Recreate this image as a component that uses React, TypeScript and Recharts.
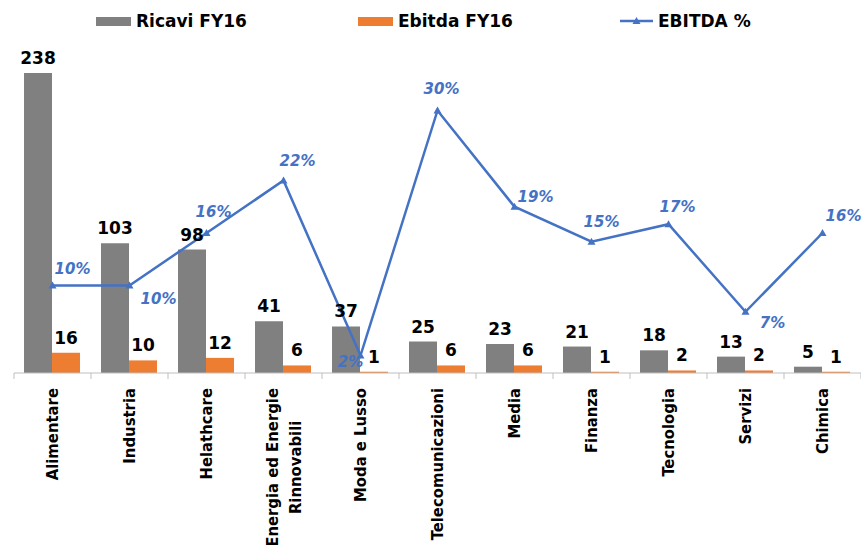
import React from "react"
import { ComposedChart, Bar, Line, XAxis, YAxis, LabelList, Legend } from "recharts"

const categories = [
  "Alimentare",
  "Industria",
  "Helathcare",
  "Energia ed Energie Rinnovabili",
  "Moda e Lusso",
  "Telecomunicazioni",
  "Media",
  "Finanza",
  "Tecnologia",
  "Servizi",
  "Chimica",
]
const ricavi = [238, 103, 98, 41, 37, 25, 23, 21, 18, 13, 5]
const ebitda = [16, 10, 12, 6, 1, 6, 6, 1, 2, 2, 1]
const ebitdaPct = [10, 10, 16, 22, 2, 30, 19, 15, 17, 7, 16]
const seriesNames = ["Ricavi FY16", "Ebitda FY16", "EBITDA %"]

const data = categories.map((name, i) => ({
  name,
  ricavi: ricavi[i],
  ebitda: ebitda[i],
  pct: ebitdaPct[i],
}))

const W = 861
const H = 545
const LEFT = 14
const PLOT_BOTTOM = 373
const BAND = (W - LEFT) / categories.length

const GREY = "#808080"
const ORANGE = "#ED7D31"
const BLUE = "#4472C4"
const AXIS = "#bfbfbf"

const AXIS_FONT = "'DejaVu Sans Condensed', 'DejaVu Sans', sans-serif"
const AXIS_SIZE = 16.5

// where each % label sits relative to its point
const pctOffsets = [
  [20, -17], [29, 13], [7, -21], [14, -20], [-10, 6], [4, -22],
  [21, -10], [10, -20], [9, -17], [27, 11], [21, -17],
]

function measure(text: string) {
  try {
    const c = document.createElement("canvas").getContext("2d")
    if (c) {
      c.font = `bold ${AXIS_SIZE}px ${AXIS_FONT}`
      return c.measureText(text).width
    }
  } catch (e) {}
  return text.length * AXIS_SIZE * 0.6
}

function splitLabel(s: string) {
  if (s.length <= 20) return [s]
  const k = s.lastIndexOf(" ")
  return [s.slice(0, k), s.slice(k + 1)]
}

function CategoryTick(props: any) {
  const { x, payload, index } = props
  const lines = splitLabel(payload.value)
  const longest = Math.max(...lines.map(measure))
  const lh = 23
  return (
    <g>
      <line x1={x - BAND / 2} x2={x - BAND / 2} y1={PLOT_BOTTOM} y2={PLOT_BOTTOM + 6} stroke={AXIS} />
      {index === categories.length - 1 && (
        <line x1={x + BAND / 2} x2={x + BAND / 2} y1={PLOT_BOTTOM} y2={PLOT_BOTTOM + 6} stroke={AXIS} />
      )}
      <g transform={`translate(${x},${PLOT_BOTTOM + 15}) rotate(-90)`}>
        {lines.map((l: string, i: number) => (
          <text
            key={i}
            x={lines.length > 1 ? -longest / 2 : 0}
            y={(i - (lines.length - 1) / 2) * lh}
            textAnchor={lines.length > 1 ? "middle" : "end"}
            dominantBaseline="central"
            fontFamily={AXIS_FONT}
            fontSize={AXIS_SIZE}
            fontWeight="bold"
            fill="#000"
          >
            {l}
          </text>
        ))}
      </g>
    </g>
  )
}

function PctLabel(props: any) {
  const { x, y, value, index } = props
  const [dx, dy] = pctOffsets[index] || [0, -15]
  return (
    <text
      x={x + dx}
      y={y + dy}
      textAnchor="middle"
      dominantBaseline="central"
      fontFamily="'DejaVu Sans', sans-serif"
      fontSize={15}
      fontWeight="bold"
      fontStyle="italic"
      fill={BLUE}
    >
      {value}%
    </text>
  )
}

function TriangleDot(props: any) {
  const { cx, cy } = props
  return <path d={`M${cx},${cy - 4} L${cx + 4},${cy + 3} L${cx - 4},${cy + 3} Z`} fill={BLUE} />
}

const legendLeft = [96, 358, 620]

function LegendContent(props: any) {
  const items = [...(props.payload || [])].sort(
    (a: any, b: any) => seriesNames.indexOf(a.value) - seriesNames.indexOf(b.value)
  )
  return (
    <div style={{ position: "relative", width: W, height: 40 }}>
      {items.map((it: any, i: number) => (
        <div
          key={i}
          style={{
            position: "absolute",
            left: legendLeft[i],
            top: 11,
            display: "flex",
            alignItems: "center",
            fontFamily: "'DejaVu Sans', sans-serif",
            fontWeight: "bold",
            fontSize: 17,
            color: "#000",
            whiteSpace: "nowrap",
          }}
        >
          {it.type === "line" ? (
            <svg width={33} height={10} style={{ marginRight: 5 }}>
              <line x1={0} x2={33} y1={5} y2={5} stroke={BLUE} strokeWidth={2.5} />
              <path d="M16.5,1 L20.5,8 L12.5,8 Z" fill={BLUE} />
            </svg>
          ) : (
            <div style={{ width: 35, height: 9, background: it.color, marginRight: 5 }} />
          )}
          <span>{it.value}</span>
        </div>
      ))}
    </div>
  )
}

export default function App() {
  return (
    <div style={{ position: "absolute", left: 0, top: 0, width: W, height: H, background: "#fff" }}>
      <ComposedChart
        width={W}
        height={H}
        data={data}
        margin={{ top: 58, right: 0, left: LEFT, bottom: 0 }}
        barCategoryGap="13%"
        barGap={0}
      >
        <XAxis
          dataKey="name"
          height={H - PLOT_BOTTOM}
          interval={0}
          tickLine={false}
          axisLine={{ stroke: AXIS }}
          tick={<CategoryTick />}
        />
        <YAxis yAxisId="left" domain={[0, 250]} hide />
        <YAxis yAxisId="right" orientation="right" domain={[0, 36]} hide />
        <Legend
          layout="horizontal"
          verticalAlign="middle"
          align="center"
          wrapperStyle={{ position: "absolute", top: 0, left: 0, width: W, height: 40 }}
          content={<LegendContent />}
        />
        <Bar yAxisId="left" dataKey="ricavi" name={seriesNames[0]} fill={GREY} isAnimationActive={false}>
          <LabelList
            dataKey="ricavi"
            position="top"
            offset={9}
            fill="#000"
            fontFamily="'DejaVu Sans', sans-serif"
            fontSize={17}
            fontWeight="bold"
          />
        </Bar>
        <Bar yAxisId="left" dataKey="ebitda" name={seriesNames[1]} fill={ORANGE} isAnimationActive={false}>
          <LabelList
            dataKey="ebitda"
            position="top"
            offset={9}
            fill="#000"
            fontFamily="'DejaVu Sans', sans-serif"
            fontSize={17}
            fontWeight="bold"
          />
        </Bar>
        <Line
          yAxisId="right"
          dataKey="pct"
          name={seriesNames[2]}
          type="linear"
          stroke={BLUE}
          strokeWidth={2.5}
          dot={<TriangleDot />}
          activeDot={false}
          legendType="line"
          isAnimationActive={false}
        >
          <LabelList dataKey="pct" content={<PctLabel />} />
        </Line>
      </ComposedChart>
    </div>
  )
}
